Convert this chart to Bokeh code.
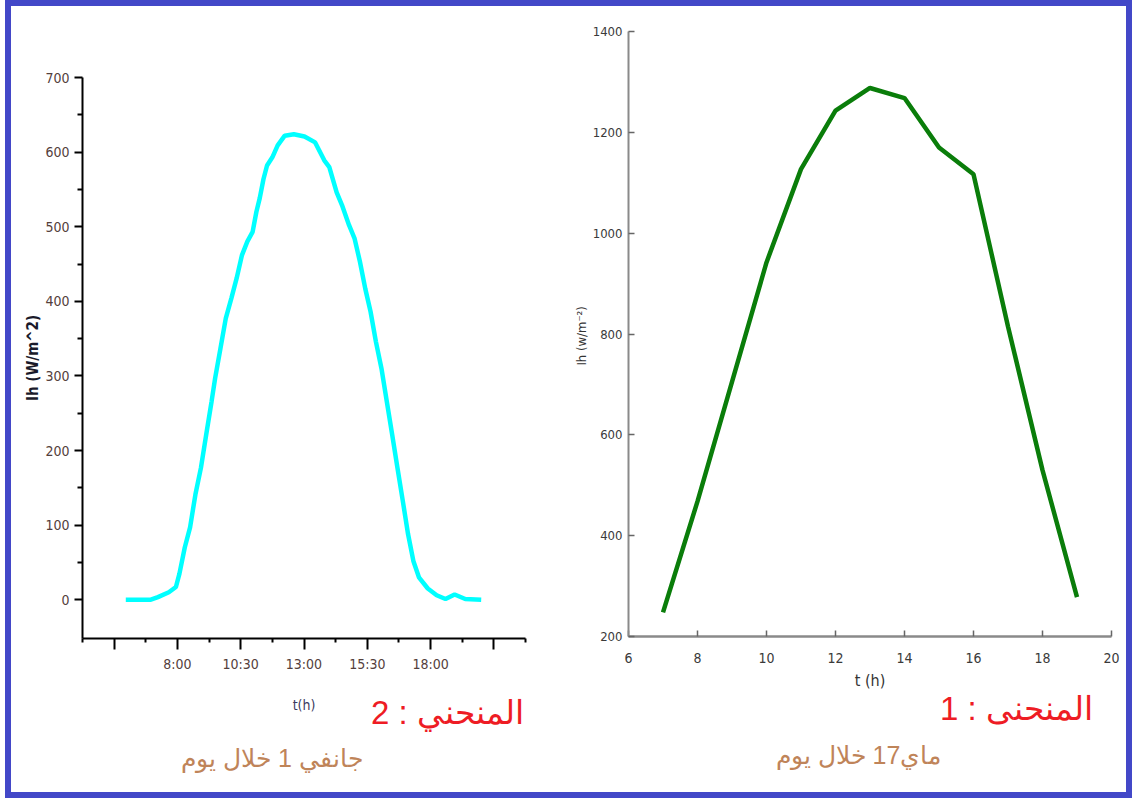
from bokeh.plotting import figure
from bokeh.models import Range1d, FixedTicker, Label
from bokeh.layouts import row
from bokeh.embed import file_html
from bokeh.resources import INLINE

# ---------------- data ----------------
# Curve 2 : 1 January (hours, W/m^2)
jan_t = [5.96, 6.5, 6.95, 7.23, 7.66, 7.94, 8.08, 8.29, 8.5, 8.71, 8.93, 9.14, 9.35,
         9.49, 9.7, 9.91, 10.13, 10.34, 10.55, 10.76, 10.97, 11.12, 11.25, 11.4,
         11.54, 11.75, 11.96, 12.24, 12.6, 13.02, 13.44, 13.8, 14.0, 14.29, 14.5,
         14.78, 15.0, 15.21, 15.42, 15.63, 15.84, 16.06, 16.27, 16.48, 16.69, 16.9,
         17.11, 17.32, 17.54, 17.89, 18.24, 18.59, 18.95, 19.37, 20.0]
jan_ih = [0, 0, 0, 3.5, 10, 17, 35, 70, 97, 141, 177, 222, 266,
          297, 337, 377, 404, 431, 462, 480, 493, 520, 538, 564,
          582, 593, 609, 622, 624, 621, 613, 589, 580, 546, 529,
          502, 484, 453, 417, 386, 346, 310, 266, 222, 177, 133,
          88, 52, 30, 15, 6, 1, 7, 1, 0]

# Curve 1 : 17 May
may_t = [7, 8, 9, 10, 11, 12, 13, 14, 15, 16, 17, 18, 19]
may_ih = [248, 468, 705, 942, 1127, 1243, 1288, 1268, 1170, 1117, 815, 530, 278]

# ticks / labels
left_x_major = [5.5, 8, 10.5, 13, 15.5, 18, 20.5]
left_x_labels = ["", "8:00", "10:30", "13:00", "15:30", "18:00", ""]
left_x_minor = [4.25, 6.75, 9.25, 11.75, 14.25, 16.75, 19.25, 21.75]
left_y_major = [0, 100, 200, 300, 400, 500, 600, 700]
left_y_minor = [50, 150, 250, 350, 450, 550, 650]
right_x_ticks = [6, 8, 10, 12, 14, 16, 18, 20]
right_y_ticks = [200, 400, 600, 800, 1000, 1200, 1400]

left_caption = "المنحني : 2"
left_date = "جانفي  1 خلال يوم"
right_caption = "المنحنى : 1"
right_date = "ماي17 خلال يوم"

NARROW = "DejaVu Sans Condensed, Liberation Sans"
SANS = "Liberation Sans"
RED = "#ee1c24"
BROWN = "#bf8459"

# ---------------- left chart ----------------
p1 = figure(width=549, height=786, x_range=Range1d(4.25, 21.75), y_range=Range1d(-52, 700),
            min_border_left=71, min_border_right=35, min_border_top=71, min_border_bottom=154,
            toolbar_location=None, output_backend="svg")
p1.frame_align = False
p1.line(jan_t, jan_ih, line_color="#00ffff", line_width=4.5)

xa = p1.xaxis[0]
xa.ticker = FixedTicker(ticks=left_x_major, minor_ticks=left_x_minor)
xa.major_label_overrides = dict(zip(left_x_major, left_x_labels))
xa.major_tick_out = 11
xa.major_tick_in = 0
xa.minor_tick_out = 4
xa.minor_tick_in = 0
xa.axis_label = "t(h)"
xa.axis_label_standoff = 22
xa.major_label_standoff = 6

ya = p1.yaxis[0]
ya.ticker = FixedTicker(ticks=left_y_major, minor_ticks=left_y_minor)
ya.major_tick_out = 8
ya.major_tick_in = 0
ya.minor_tick_out = 5
ya.minor_tick_in = 0
ya.axis_label = "Ih (W/m^2)"
ya.axis_label_standoff = 0
ya.major_label_standoff = 5

for ax in (xa, ya):
    ax.axis_line_color = "black"
    ax.axis_line_width = 2
    ax.major_tick_line_color = "black"
    ax.major_tick_line_width = 2
    ax.minor_tick_line_color = "black"
    ax.minor_tick_line_width = 2
    ax.major_label_text_font = NARROW
    ax.major_label_text_font_size = "14px"
    ax.major_label_text_color = "#54403c"
    ax.axis_label_text_font = NARROW
    ax.axis_label_text_font_style = "bold"
    ax.axis_label_text_color = "#1a1a2a"
xa.axis_label_text_font_size = "14px"
xa.axis_label_text_font_style = "normal"
xa.axis_label_text_color = "#3a3a60"
ya.axis_label_text_font_size = "15px"

p1.grid.visible = False
p1.outline_line_color = None

p1.add_layout(Label(x=365, y=40, x_units="screen", y_units="screen", text=left_caption,
                    text_align="center", text_baseline="alphabetic", text_color=RED,
                    text_font=SANS, text_font_size="33px"), "below")
p1.add_layout(Label(x=193, y=23, x_units="screen", y_units="screen", text=left_date,
                    text_align="center", text_baseline="alphabetic", text_color=BROWN,
                    text_font=SANS, text_font_size="25px"), "below")

# ---------------- right chart ----------------
p2 = figure(width=566, height=786, x_range=Range1d(6, 20), y_range=Range1d(200, 1400),
            min_border_left=68, min_border_right=15, min_border_top=25, min_border_bottom=156,
            toolbar_location=None, output_backend="svg")
p2.frame_align = False
p2.line(may_t, may_ih, line_color="#0a7d0a", line_width=4.5)

xb = p2.xaxis[0]
xb.ticker = FixedTicker(ticks=right_x_ticks, minor_ticks=[])
xb.axis_label = "t (h)"
xb.axis_label_standoff = 5
xb.major_label_standoff = 16
xb.axis_line_width = 2.5
yb = p2.yaxis[0]
yb.ticker = FixedTicker(ticks=right_y_ticks, minor_ticks=[])
yb.axis_label = "Ih  (w/m⁻²)"
yb.axis_label_standoff = 1
yb.major_label_standoff = 6
yb.axis_line_width = 2

for ax in (xb, yb):
    ax.axis_line_color = "#8a8a8a"
    ax.major_tick_in = 6
    ax.major_tick_out = 0
    ax.major_tick_line_color = "#666666"
    ax.major_tick_line_width = 1.5
    ax.minor_tick_line_color = None
    ax.major_label_text_font = NARROW
    ax.major_label_text_font_size = "14px"
    ax.major_label_text_color = "#3a3a3a"
    ax.axis_label_text_font = NARROW
    ax.axis_label_text_font_style = "normal"
    ax.axis_label_text_color = "#333333"
yb.major_label_text_font_size = "13px"
xb.axis_label_text_font_size = "16px"
yb.axis_label_text_font_size = "13px"

p2.grid.visible = False
p2.outline_line_color = None

p2.add_layout(Label(x=388, y=21, x_units="screen", y_units="screen", text=right_caption,
                    text_align="center", text_baseline="alphabetic", text_color=RED,
                    text_font=SANS, text_font_size="33px"), "below")
p2.add_layout(Label(x=230, y=3, x_units="screen", y_units="screen", text=right_date,
                    text_align="center", text_baseline="alphabetic", text_color=BROWN,
                    text_font=SANS, text_font_size="25px"), "below")

layout = row(p1, p2)
layout.styles = {"border": "6px solid #4348c8", "margin-left": "5px"}

open("out.html", "w").write(file_html(layout, INLINE))
